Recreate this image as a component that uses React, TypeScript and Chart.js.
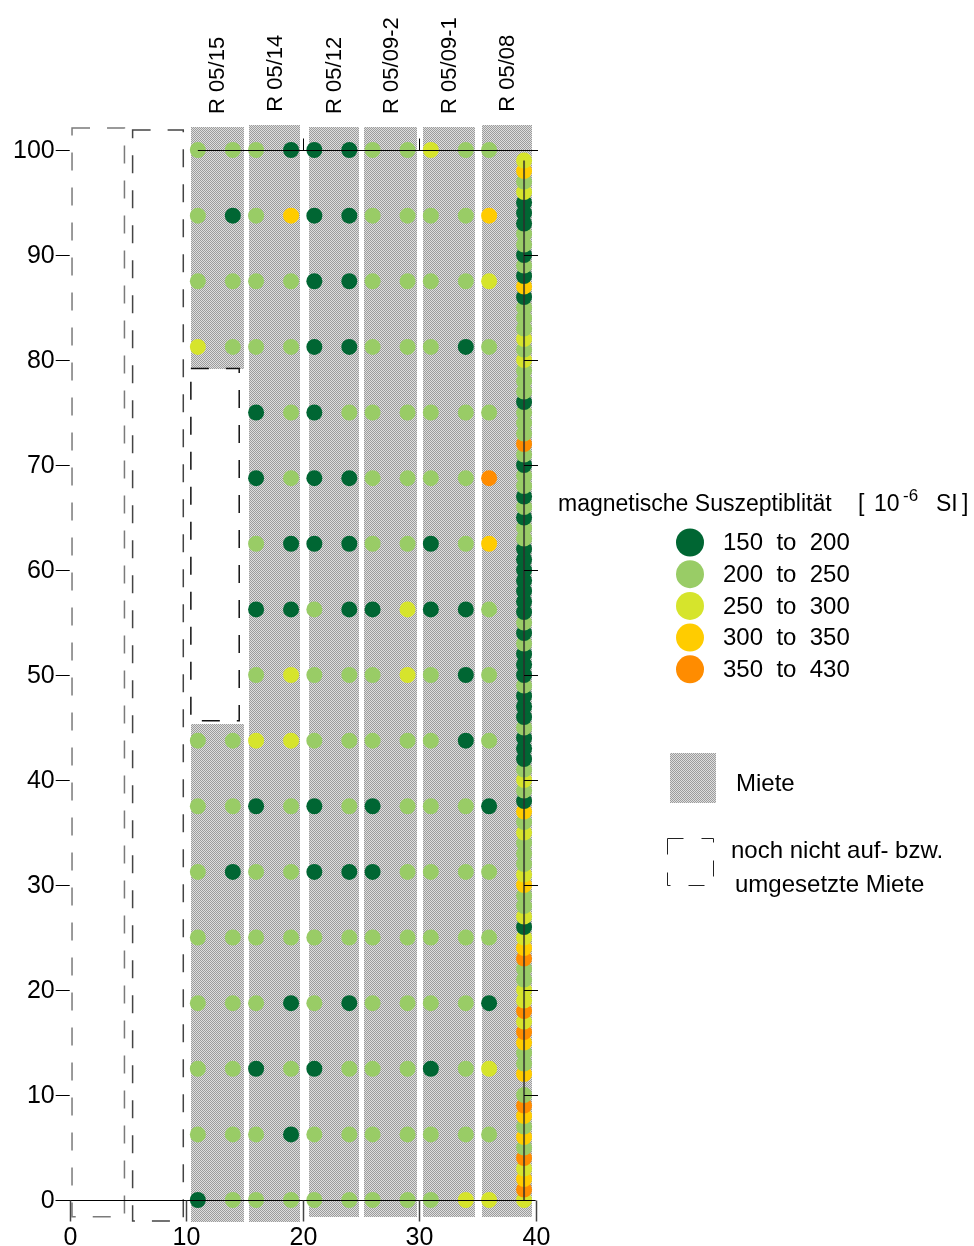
import React, { useEffect, useRef } from 'react';
import { Chart, registerables } from 'chart.js';

Chart.register(...registerables);

// Susceptibility classes [10^-6 SI]
const classLow = [150, 200, 250, 300, 350];
const classHigh = [200, 250, 300, 350, 430];
const classColors = ['#006633', '#99CC66', '#D6E42C', '#FFCC00', '#FF8C00'];

// Grid measurements on the heaps (rows along the heap, columns across)
const rowY = [0, 6.25, 12.5, 18.75, 25, 31.25, 37.5, 43.75, 50, 56.25, 62.5, 68.75, 75, 81.25, 87.5, 93.75, 100];
const gridX = [11, 14, 16, 19, 21, 24, 26, 29, 31, 34, 36];
const col11 = [175, 225, 225, 225, 225, 225, 225, 225, null, null, null, null, null, 275, 225, 225, 225];
const col14 = [225, 225, 225, 225, 225, 175, 225, 225, null, null, null, null, null, 225, 225, 175, 225];
const col16 = [225, 225, 175, 225, 225, 225, 175, 275, 225, 175, 225, 175, 175, 225, 225, 225, 225];
const col19 = [225, 175, 225, 175, 225, 225, 225, 275, 275, 175, 175, 225, 225, 225, 225, 325, 175];
const col21 = [225, 225, 175, 225, 225, 175, 175, 225, 225, 225, 175, 175, 175, 175, 175, 175, 175];
const col24 = [225, 225, 225, 175, 225, 175, 225, 225, 225, 175, 175, 175, 225, 175, 175, 175, 175];
const col26 = [225, 225, 225, 225, 225, 175, 175, 225, 225, 175, 225, 225, 225, 225, 225, 225, 225];
const col29 = [225, 225, 225, 225, 225, 225, 225, 225, 275, 275, 225, 225, 225, 225, 225, 225, 225];
const col31 = [225, 225, 175, 225, 225, 225, 225, 225, 225, 175, 175, 225, 225, 225, 225, 225, 275];
const col34 = [275, 225, 225, 225, 225, 225, 225, 175, 175, 175, 225, 225, 225, 175, 225, 225, 225];
const col36 = [275, 225, 275, 175, 225, 225, 175, 225, 225, 225, 325, 385, 225, 225, 275, 325, 225];
const gridColumns = [col11, col14, col16, col19, col21, col24, col26, col29, col31, col34, col36];

// Dense profile at x = 39
const denseX = 39;
const denseY = [
  0, 1, 2, 3, 4, 5, 6, 7, 8, 9, 10, 12, 13, 14, 15, 16, 17, 18, 19, 20,
  21, 22, 23, 24, 25, 26, 27, 28, 29, 30, 31, 32, 33, 34, 35, 36, 37, 38, 39, 40,
  41, 42, 43, 44, 45, 46, 47, 48, 49, 50, 51, 52, 53, 54, 55, 56, 57, 58, 59, 60,
  61, 62, 63, 64, 65, 66, 67, 68, 69, 70, 71, 72, 73, 74, 75, 76, 77, 78, 79, 80,
  81, 82, 83, 84, 85, 86, 87, 88, 89, 90, 91, 92, 93, 94, 95, 96, 97, 98, 99,
];
const denseVal = [
  275, 385, 325, 275, 385, 225, 325, 225, 325, 385, 225, 325, 225, 225, 325, 385, 275, 385, 275, 275,
  225, 225, 385, 325, 275, 175, 275, 225, 225, 325, 275, 225, 225, 225, 275, 225, 325, 175, 225, 275,
  225, 175, 175, 175, 225, 175, 175, 175, 225, 175, 175, 175, 225, 175, 225, 175, 175, 175, 175, 175,
  175, 175, 225, 225, 175, 225, 175, 225, 225, 175, 225, 385, 225, 225, 225, 175, 225, 225, 225, 275,
  225, 275, 225, 225, 225, 175, 325, 175, 225, 175, 225, 225, 175, 175, 175, 275, 225, 325, 275,
];

// Heaps ("Miete")
const mieteNames = ['R 05/15', 'R 05/14', 'R 05/12', 'R 05/09-2', 'R 05/09-1', 'R 05/08'];
const mieteX0 = [10.4, 15.4, 20.5, 25.3, 30.35, 35.35];
const mieteX1 = [14.95, 19.75, 24.85, 29.8, 34.8, 39.7];
const mieteBottom = [-2.1, -2.1, -1.6, -1.6, -1.6, -1.6];
const mieteTop = [102.2, 102.4, 102.2, 102.2, 102.2, 102.4];
const mieteGapFrom = [45.3, null, null, null, null, null];
const mieteGapTo = [79.1, null, null, null, null, null];

// Heaps not yet built / turned
const pendingX0 = [0.2, 5.4, 10.4];
const pendingX1 = [4.7, 9.75, 14.55];
const pendingY0 = [-1.6, -2.0, 45.65];
const pendingY1 = [102.1, 101.9, 79.2];
const pendingColors = ['#7a7a7a', '#444444', '#111111'];

// Axis ticks
const xTickValues = [0, 10, 20, 30, 40];
const yTickValues = [0, 10, 20, 30, 40, 50, 60, 70, 80, 90, 100];
const topTickValues = [20, 30];
const rightTickValues = [10, 20, 30, 40, 50, 60, 70, 80, 90];

const FONT = '"Liberation Sans", Arial, sans-serif';

function classIndex(v: number): number {
  for (let i = 0; i < classLow.length; i++) {
    if (v >= classLow[i] && v < classHigh[i]) return i;
  }
  return classLow.length - 1;
}

export default function App() {
  const ref = useRef<HTMLCanvasElement>(null);

  useEffect(() => {
    const canvas = ref.current!;
    const pc = document.createElement('canvas');
    pc.width = 2;
    pc.height = 2;
    const pctx = pc.getContext('2d')!;
    pctx.fillStyle = '#dedede';
    pctx.fillRect(0, 0, 2, 2);
    pctx.fillStyle = '#9c9c9c';
    pctx.fillRect(0, 0, 1, 1);
    pctx.fillRect(1, 1, 1, 1);
    const pattern = canvas.getContext('2d')!.createPattern(pc, 'repeat')!;

    const gridPoints: { x: number; y: number; v: number }[] = [];
    gridColumns.forEach((col, i) => {
      col.forEach((v, j) => {
        if (v !== null) gridPoints.push({ x: gridX[i], y: rowY[j], v: v as number });
      });
    });
    const densePoints = denseY.map((yy, i) => ({ x: denseX, y: yy, v: denseVal[i] }));

    const colorOf = (c: any) => {
      const raw = c.raw as { v: number } | undefined;
      return raw ? classColors[classIndex(raw.v)] : '#000';
    };

    const plugin = {
      id: 'mieteDecor',
      beforeDatasetsDraw(chart: any) {
        const { ctx } = chart;
        const xs = chart.scales.x;
        const ys = chart.scales.y;
        ctx.save();
        ctx.fillStyle = pattern;
        for (let i = 0; i < mieteNames.length; i++) {
          const x0 = Math.round(xs.getPixelForValue(mieteX0[i]));
          const x1 = Math.round(xs.getPixelForValue(mieteX1[i]));
          const segs: [number, number][] = [];
          if (mieteGapFrom[i] !== null) {
            segs.push([mieteBottom[i], mieteGapFrom[i] as number]);
            segs.push([mieteGapTo[i] as number, mieteTop[i]]);
          } else {
            segs.push([mieteBottom[i], mieteTop[i]]);
          }
          for (const [b, t] of segs) {
            const yt = Math.round(ys.getPixelForValue(t));
            const yb = Math.round(ys.getPixelForValue(b));
            ctx.fillRect(x0, yt, x1 - x0, yb - yt);
          }
        }
        ctx.lineWidth = 1.5;
        ctx.setLineDash([18, 17]);
        for (let i = 0; i < pendingX0.length; i++) {
          const x0 = xs.getPixelForValue(pendingX0[i]);
          const x1 = xs.getPixelForValue(pendingX1[i]);
          const yt = ys.getPixelForValue(pendingY1[i]);
          const yb = ys.getPixelForValue(pendingY0[i]);
          ctx.strokeStyle = pendingColors[i];
          ctx.strokeRect(x0, yt, x1 - x0, yb - yt);
        }
        ctx.setLineDash([]);
        ctx.restore();
      },
      afterDatasetsDraw(chart: any) {
        const { ctx } = chart;
        const xs = chart.scales.x;
        const ys = chart.scales.y;
        const px0 = xs.getPixelForValue(0);
        const py0 = Math.round(ys.getPixelForValue(0)) + 0.5;
        const py100 = Math.round(ys.getPixelForValue(100)) + 0.5;
        ctx.save();
        ctx.strokeStyle = '#000';
        ctx.lineWidth = 1;
        ctx.beginPath();
        ctx.moveTo(xs.getPixelForValue(-1.2), py0);
        ctx.lineTo(xs.getPixelForValue(40), py0);
        ctx.stroke();
        ctx.beginPath();
        ctx.moveTo(xs.getPixelForValue(11), py100);
        ctx.lineTo(xs.getPixelForValue(40.2), py100);
        ctx.stroke();
        for (const v of topTickValues) {
          const px = Math.round(xs.getPixelForValue(v)) + 0.5;
          ctx.beginPath();
          ctx.moveTo(px, py100);
          ctx.lineTo(px, py100 - 12);
          ctx.stroke();
        }
        for (const v of rightTickValues) {
          const py = Math.round(ys.getPixelForValue(v)) + 0.5;
          ctx.beginPath();
          ctx.moveTo(xs.getPixelForValue(denseX), py);
          ctx.lineTo(xs.getPixelForValue(40.2), py);
          ctx.stroke();
        }
        // bottom ticks + labels
        ctx.fillStyle = '#000';
        ctx.font = `25px ${FONT}`;
        ctx.textAlign = 'center';
        ctx.textBaseline = 'alphabetic';
        for (const v of xTickValues) {
          const px = Math.round(xs.getPixelForValue(v)) + 0.5;
          ctx.strokeStyle = '#444';
          ctx.lineWidth = 1.5;
          ctx.beginPath();
          ctx.moveTo(px, py0);
          ctx.lineTo(px, py0 + 21);
          ctx.stroke();
          ctx.fillText(String(v), px, py0 + 44);
        }
        // left ticks + labels
        ctx.textAlign = 'right';
        ctx.textBaseline = 'middle';
        ctx.strokeStyle = '#000';
        ctx.lineWidth = 1;
        for (const v of yTickValues) {
          const py = Math.round(ys.getPixelForValue(v)) + 0.5;
          ctx.beginPath();
          ctx.moveTo(px0 - 14, py);
          ctx.lineTo(px0, py);
          ctx.stroke();
          ctx.fillText(String(v), px0 - 15, py + 1);
        }
        // heap names (rotated)
        ctx.font = `22px ${FONT}`;
        ctx.textAlign = 'left';
        ctx.textBaseline = 'middle';
        for (let i = 0; i < mieteNames.length; i++) {
          const cx = xs.getPixelForValue((mieteX0[i] + mieteX1[i]) / 2) + 1;
          const top = ys.getPixelForValue(mieteTop[i]);
          ctx.save();
          ctx.translate(cx, top - 13);
          ctx.rotate(-Math.PI / 2);
          ctx.fillText(mieteNames[i], 0, 0);
          ctx.restore();
        }

        // ---- legend ----
        ctx.textAlign = 'left';
        ctx.textBaseline = 'alphabetic';
        ctx.font = `23px ${FONT}`;
        ctx.fillText('magnetische Suszeptiblität', 558, 511);
        ctx.fillText('[', 858, 511);
        ctx.fillText('10', 874, 511);
        ctx.font = `17px ${FONT}`;
        ctx.fillText('-6', 903, 501);
        ctx.font = `23px ${FONT}`;
        ctx.fillText('SI', 936, 511);
        ctx.fillText(']', 962, 511);

        ctx.font = `24px ${FONT}`;
        ctx.textBaseline = 'middle';
        for (let i = 0; i < classLow.length; i++) {
          const cy = 542.5 + i * 31.7;
          ctx.fillStyle = classColors[i];
          ctx.beginPath();
          ctx.arc(690, cy, 14, 0, Math.PI * 2);
          ctx.fill();
          ctx.fillStyle = '#000';
          ctx.fillText(`${classLow[i]}  to  ${classHigh[i]}`, 723, cy + 1);
        }

        ctx.fillStyle = pattern;
        ctx.fillRect(670, 753, 46, 50);
        ctx.fillStyle = '#000';
        ctx.textBaseline = 'alphabetic';
        ctx.fillText('Miete', 736, 791);

        ctx.strokeStyle = '#222';
        ctx.lineWidth = 1;
        ctx.setLineDash([16, 18]);
        ctx.strokeRect(667.5, 838.5, 46, 47);
        ctx.setLineDash([]);
        ctx.fillText('noch nicht auf- bzw.', 731, 858);
        ctx.fillText('umgesetzte Miete', 735, 892);
        ctx.restore();
      },
    };

    const chart = new Chart(canvas, {
      type: 'scatter',
      data: {
        datasets: [
          {
            label: 'profile line',
            data: densePoints.map((p) => ({ x: p.x, y: p.y })),
            showLine: true,
            borderColor: 'rgba(45,45,45,0.75)',
            borderWidth: 2,
            pointRadius: 0,
            fill: false,
          } as any,
          {
            label: 'dense',
            data: densePoints,
            pointRadius: 8,
            pointBorderWidth: 0,
            pointBackgroundColor: colorOf,
            pointBorderColor: colorOf,
          } as any,
          {
            label: 'grid',
            data: gridPoints,
            pointRadius: 8,
            pointBorderWidth: 0,
            pointBackgroundColor: colorOf,
            pointBorderColor: colorOf,
          } as any,
        ],
      },
      options: {
        responsive: false,
        animation: false,
        events: [],
        layout: { padding: { left: 46.4, right: 426.65, top: 108, bottom: 14.5 } },
        plugins: { legend: { display: false }, tooltip: { enabled: false } },
        scales: {
          x: { type: 'linear', min: -2, max: 41, display: false },
          y: { type: 'linear', min: -3, max: 104, display: false },
        },
      },
      plugins: [plugin],
    });
    return () => chart.destroy();
  }, []);

  return (
    <div style={{ position: 'fixed', left: 0, top: 0, width: 974, height: 1246, background: '#fff' }}>
      <canvas ref={ref} width={974} height={1246} style={{ width: 974, height: 1246, display: 'block' }} />
    </div>
  );
}
